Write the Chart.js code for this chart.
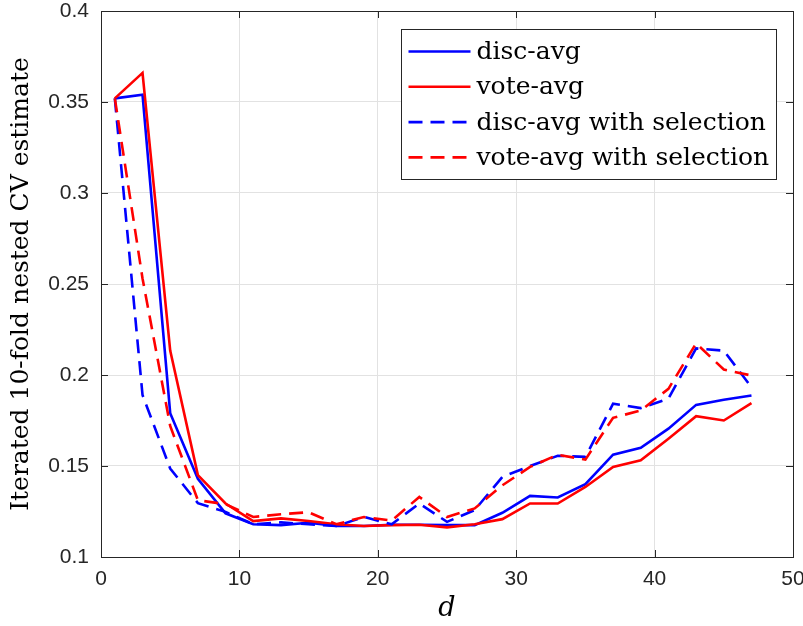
<!DOCTYPE html>
<html>
<head>
<meta charset="utf-8">
<script src="https://cdn.jsdelivr.net/npm/chart.js@4.4.0/dist/chart.umd.min.js"></script>
<style>
  html, body { margin: 0; padding: 0; background: #fff; }
  canvas { display: block; }
</style>
</head>
<body>
<canvas id="cvChart" width="803" height="626"></canvas>
<script>
'use strict'
// d values (x axis)
var dValues = [1, 3, 5, 7, 9, 11, 13, 15, 17, 19, 21, 23, 25, 27, 29, 31, 33, 35, 37, 39, 41, 43, 45, 47];

var discAvg = [0.352, 0.354, 0.179, 0.143, 0.124, 0.118, 0.1175, 0.1188, 0.117, 0.117, 0.1177, 0.1177,
               0.1175, 0.1175, 0.1243, 0.1336, 0.1327, 0.140, 0.1562, 0.160, 0.1705, 0.1836, 0.1864, 0.1887];
var voteAvg = [0.352, 0.366, 0.2134, 0.145, 0.1294, 0.1197, 0.1212, 0.1198, 0.118, 0.117, 0.1175, 0.1177,
               0.1163, 0.118, 0.1208, 0.1294, 0.1294, 0.1385, 0.1495, 0.1531, 0.165, 0.1774, 0.175, 0.1845];
var discSel = [0.352, 0.189, 0.1486, 0.1296, 0.1248, 0.118, 0.119, 0.118, 0.117, 0.122, 0.118, 0.1294,
               0.1193, 0.1258, 0.144, 0.150, 0.1556, 0.155, 0.1842, 0.1818, 0.187, 0.2146, 0.2134, 0.1933];
var voteSel = [0.352, 0.253, 0.172, 0.1312, 0.129, 0.122, 0.1235, 0.1246, 0.118, 0.122, 0.120, 0.133,
               0.122, 0.1267, 0.1394, 0.1495, 0.1562, 0.1535, 0.1765, 0.1805, 0.1924, 0.2174, 0.203, 0.1997];

var seriesNames = ['disc-avg', 'vote-avg', 'disc-avg with selection', 'vote-avg with selection'];
var xTickLabels = ['0', '10', '20', '30', '40', '50'];
var yTickLabels = ['0.1', '0.15', '0.2', '0.25', '0.3', '0.35', '0.4'];

function toPoints(ys) {
    return ys.map(function(y, i) { return { x: dValues[i], y: y }; });
}

var serif = '"DejaVu Serif", serif';
var axisColor = '#262626';
var gridColor = '#e2e2e2';
var lineW = 2.6;

var styles = [
    { color: '#0000ff', dash: [] },
    { color: '#ff0000', dash: [] },
    { color: '#0000ff', dash: [14, 8] },
    { color: '#ff0000', dash: [14, 8] }
];

var datasets = [discAvg, voteAvg, discSel, voteSel].map(function(ys, i) {
    return {
        label: seriesNames[i],
        data: toPoints(ys),
        borderColor: styles[i].color,
        backgroundColor: styles[i].color,
        borderDash: styles[i].dash,
        borderWidth: lineW,
        pointRadius: 0,
        tension: 0,
        fill: false,
        order: 4 - i
    };
});

// box around the axes with inward ticks on all four sides
var boxPlugin = {
    id: 'axesBox',
    afterDatasetsDraw: function(chart) {
        var ctx = chart.ctx, a = chart.chartArea;
        var xs = chart.scales.x, ys = chart.scales.y;
        var tl = 7;
        ctx.save();
        ctx.strokeStyle = axisColor;
        ctx.lineWidth = 1;
        ctx.beginPath();
        xs.ticks.forEach(function(t) {
            var px = Math.round(xs.getPixelForValue(t.value)) + 0.5;
            ctx.moveTo(px, a.bottom); ctx.lineTo(px, a.bottom - tl);
            ctx.moveTo(px, a.top); ctx.lineTo(px, a.top + tl);
        });
        ys.ticks.forEach(function(t) {
            var py = Math.round(ys.getPixelForValue(t.value)) + 0.5;
            ctx.moveTo(a.left, py); ctx.lineTo(a.left + tl, py);
            ctx.moveTo(a.right, py); ctx.lineTo(a.right - tl, py);
        });
        ctx.stroke();
        ctx.strokeRect(Math.round(a.left) + 0.5, Math.round(a.top) + 0.5,
                       Math.round(a.right - a.left), Math.round(a.bottom - a.top));
        ctx.restore();
    }
};

// legend box in the upper right corner of the axes
var legendPlugin = {
    id: 'boxLegend',
    afterDraw: function(chart) {
        var ctx = chart.ctx, a = chart.chartArea;
        var font = '25px ' + serif;
        var pad = 7, lineLen = 62, gap = 6, rowH = 35.3, padY = 22;
        ctx.save();
        ctx.font = font;
        var maxW = 0;
        seriesNames.forEach(function(n) { maxW = Math.max(maxW, ctx.measureText(n).width); });
        var w = pad + lineLen + gap + maxW + pad;
        var h = padY * 2 + rowH * (seriesNames.length - 1);
        var right = a.right - 17, top = a.top + 17.5;
        var left = Math.round(right - w) + 0.5;
        top = Math.round(top) + 0.5;
        ctx.fillStyle = '#ffffff';
        ctx.fillRect(left, top, Math.round(w), Math.round(h));
        ctx.strokeStyle = axisColor;
        ctx.lineWidth = 1;
        ctx.strokeRect(left, top, Math.round(w), Math.round(h));
        seriesNames.forEach(function(n, i) {
            var y = top + padY + rowH * i;
            ctx.beginPath();
            ctx.strokeStyle = styles[i].color;
            ctx.lineWidth = lineW;
            ctx.setLineDash(styles[i].dash);
            ctx.moveTo(left + pad, y);
            ctx.lineTo(left + pad + lineLen, y);
            ctx.stroke();
            ctx.setLineDash([]);
            ctx.fillStyle = '#000000';
            ctx.textAlign = 'left';
            ctx.textBaseline = 'middle';
            ctx.fillText(n, left + pad + lineLen + gap, y + 1);
        });
        ctx.restore();
    }
};

Chart.defaults.font.family = '"Liberation Sans", Arial, sans-serif';

var ctx = document.getElementById('cvChart');
var cvChart = new Chart(ctx, {
    type: 'line',
    data: { datasets: datasets },
    options: {
        responsive: false,
        devicePixelRatio: 1,
        animation: false,
        layout: { padding: { top: 11, right: 10, bottom: 0, left: 0 } },
        plugins: {
            legend: { display: false },
            tooltip: { enabled: false }
        },
        scales: {
            x: {
                type: 'linear',
                min: 0,
                max: 50,
                ticks: {
                    stepSize: 10,
                    color: axisColor,
                    padding: 10,
                    font: { size: 21, lineHeight: 1.2 },
                    maxRotation: 0,
                    callback: function(v) { return xTickLabels[Math.round(v / 10)]; }
                },
                grid: { color: gridColor, drawTicks: false },
                border: { display: false },
                title: {
                    display: true,
                    text: 'd',
                    color: '#000000',
                    font: { family: serif, size: 27, style: 'italic', lineHeight: 1 },
                    padding: { top: 0, bottom: 4 }
                },
                afterFit: function(scale) {
                    scale.height = 69;
                    scale.paddingLeft = 0;
                    scale.paddingRight = 0;
                }
            },
            y: {
                type: 'linear',
                min: 0.1,
                max: 0.4,
                ticks: {
                    stepSize: 0.05,
                    color: axisColor,
                    padding: 12,
                    font: { size: 21 },
                    callback: function(v) { return yTickLabels[Math.round((v - 0.1) / 0.05)]; }
                },
                grid: { color: gridColor, drawTicks: false },
                border: { display: false },
                title: {
                    display: true,
                    text: 'Iterated 10-fold nested CV estimate',
                    color: '#000000',
                    font: { family: serif, size: 25, lineHeight: 1 },
                    padding: { top: 9, bottom: 0 }
                },
                afterFit: function(scale) {
                    scale.width = 101;
                    scale.paddingTop = 0;
                    scale.paddingBottom = 0;
                }
            }
        }
    },
    plugins: [boxPlugin, legendPlugin]
});
</script>
</body>
</html>
